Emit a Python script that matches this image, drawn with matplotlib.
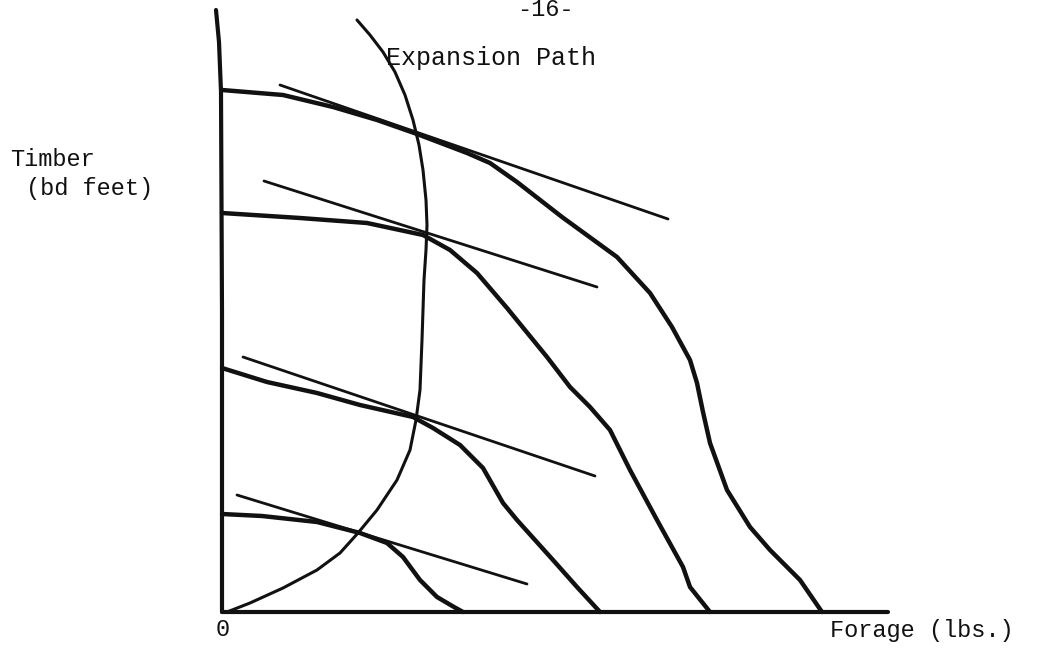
import matplotlib
matplotlib.use("Agg")
import matplotlib.pyplot as plt

# hand drawn figure (forage, timber) in drawing units
axis_y = [(-6, 602), (-3, 570), (-1, 520), (0, 300), (0, 0)]
axis_x = [(0, 0), (666, 0)]

# production possibility curves, smallest to largest
curve1 = [(0, 98), (40, 96), (95, 90), (138, 79), (165, 69), (181, 55),
          (198, 32), (215, 15), (232, 5), (241, 0)]
curve2 = [(0, 244), (45, 230), (95, 219), (138, 207), (191, 195), (211, 184),
          (238, 167), (261, 144), (281, 109), (295, 92), (331, 52), (355, 25),
          (378, 0)]
curve3 = [(0, 399), (78, 394), (145, 389), (201, 377), (228, 362), (255, 339),
          (285, 304), (325, 255), (348, 225), (368, 205), (388, 182), (408, 142),
          (435, 92), (461, 45), (468, 25), (488, 0)]
curve4 = [(0, 522), (61, 517), (111, 505), (155, 492), (195, 478), (245, 459),
          (268, 449), (295, 430), (340, 395), (395, 355), (428, 319), (450, 285),
          (468, 252), (475, 229), (481, 200), (488, 169), (505, 122), (528, 85),
          (548, 62), (578, 32), (600, 0)]

# iso-cost (price) lines
tangents = [
    [(58, 527), (446, 393)],
    [(42, 431), (375, 325)],
    [(21, 255), (373, 136)],
    [(15, 117), (305, 28)],
]

expansion = [(135, 592), (148, 577), (161, 560), (173, 540), (183, 517),
             (191, 492), (197, 467), (201, 442), (204, 412), (205, 387),
             (204, 362), (202, 332), (200, 272), (198, 222), (194, 192),
             (188, 162), (175, 132), (155, 102), (136, 79), (118, 59),
             (95, 42), (61, 24), (28, 9), (5, 0), (0, 0)]

ink = "#111111"

fig = plt.figure(figsize=(10.37, 6.48), dpi=100)
ax = fig.add_axes([0, 0, 1, 1])
ax.set_xlim(-222, 815)
ax.set_ylim(-36, 612)
ax.axis("off")

def draw(pts, lw):
    xs = [p[0] for p in pts]
    ys = [p[1] for p in pts]
    ax.plot(xs, ys, color=ink, lw=lw, solid_capstyle="round",
            solid_joinstyle="round")

draw(axis_y, 3.0)
draw(axis_x, 3.0)
for c in [curve1, curve2, curve3, curve4]:
    draw(c, 3.2)
for t in tangents:
    draw(t, 2.0)
draw(expansion, 2.2)

mono = "Liberation Mono"
ax.text(323, 602, "-16-", fontsize=17, family=mono, color=ink,
        ha="center", va="center")
ax.text(164, 554, "Expansion Path", fontsize=18, family=mono, color=ink,
        ha="left", va="center")
ax.text(-212, 452, "Timber", fontsize=17, family=mono, color=ink,
        ha="left", va="center")
ax.text(-196, 424, "(bd feet)", fontsize=17, family=mono, color=ink,
        ha="left", va="center")
ax.text(1, -17, "0", fontsize=17, family=mono, color=ink,
        ha="center", va="center")
ax.text(608, -18, "Forage (lbs.)", fontsize=17, family=mono, color=ink,
        ha="left", va="center")

fig.savefig("out.png", dpi=100, facecolor="white")
